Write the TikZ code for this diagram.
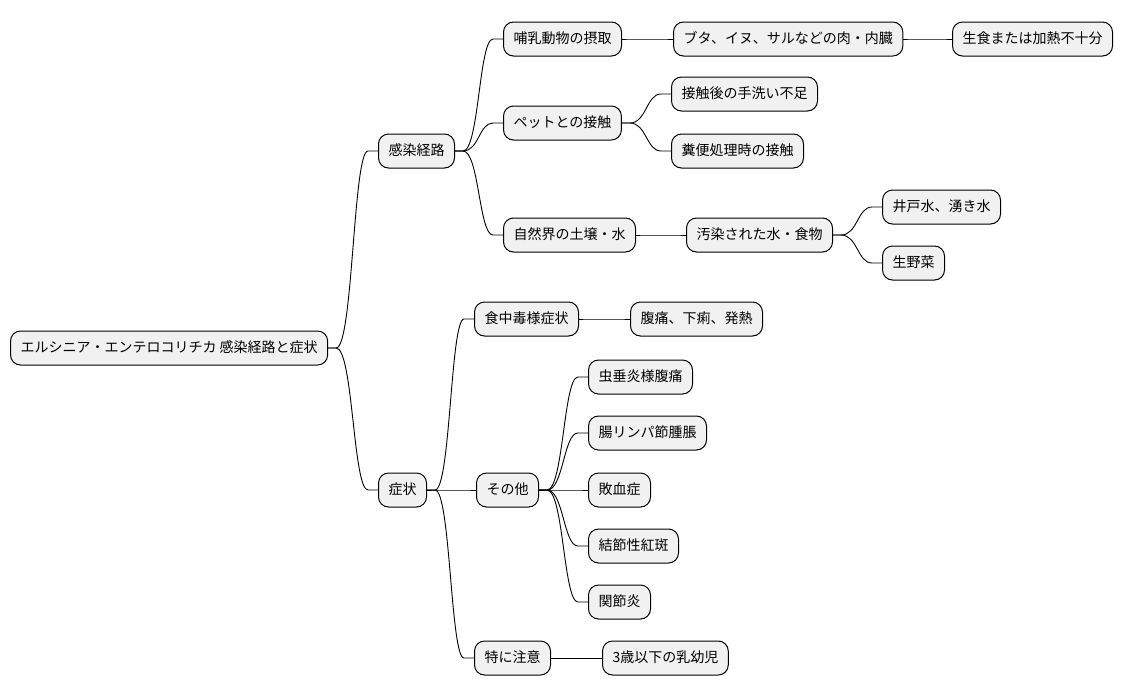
\documentclass[tikz,border=0pt]{standalone}
\usepackage{fontspec}
\newfontfamily\jpfont{Noto Sans CJK JP}
\usetikzlibrary{calc}
\definecolor{boxgray}{HTML}{F1F1F1}
\begin{document}
\begin{tikzpicture}[x=1pt, y=-1pt,
        topic/.style={draw, line width=1pt, fill=boxgray, rounded corners=10pt, anchor=west,
                font=\jpfont\fontsize{14}{16}\selectfont, inner xsep=10pt, inner ysep=0pt,
                minimum height=34pt, text height=11pt, text depth=2.5pt},
        conn/.style={line width=0.9pt}]
        \useasboundingbox (0,0) rectangle (1123,696);
        \foreach \n/\x/\y/\t in {root/10/348/{エルシニア・エンテロコリチカ 感染経路と症状},
                inf/378/151/感染経路, sym/378/490/症状,
                mam/503/39/哺乳動物の摂取, pet/503/123/ペットとの接触, nat/503/235/自然界の土壌・水,
                meat/673/39/ブタ、イヌ、サルなどの肉・内臓, raw/952/39/生食または加熱不十分,
                wash/671/94/接触後の手洗い不足, feces/671/151/糞便処理時の接触,
                water/686/235/汚染された水・食物, well/882/207/井戸水、湧き水, veg/882/263/生野菜,
                food/474/319/食中毒様症状, gi/630/319/腹痛、下痢、発熱,
                other/476/490/その他, appx/588/377/虫垂炎様腹痛, lymph/588/433/腸リンパ節腫脹,
                sepsis/588/490/敗血症, ery/588/546/結節性紅斑, arth/588/602/関節炎,
                care/474/658/特に注意, kids/602/658/3歳以下の乳幼児}{
        \node[topic] (\n) at (\x,\y) {\t};
        }
        \foreach \a/\b in {root/inf, root/sym, inf/mam, inf/pet, inf/nat, mam/meat, meat/raw,
                pet/wash, pet/feces, nat/water, water/well, water/veg,
                sym/food, sym/other, sym/care, food/gi, care/kids,
                other/appx, other/lymph, other/sepsis, other/ery, other/arth}{
        \draw[conn] let \p1=(\a.east), \p2=(\b.west) in
                (\p1) -- ++(8,0) .. controls ({(\x1+\x2)/2},\y1) and ({(\x1+\x2)/2},\y2) .. (\x2-10pt,\y2) -- (\p2);
        }
\end{tikzpicture}
\end{document}
